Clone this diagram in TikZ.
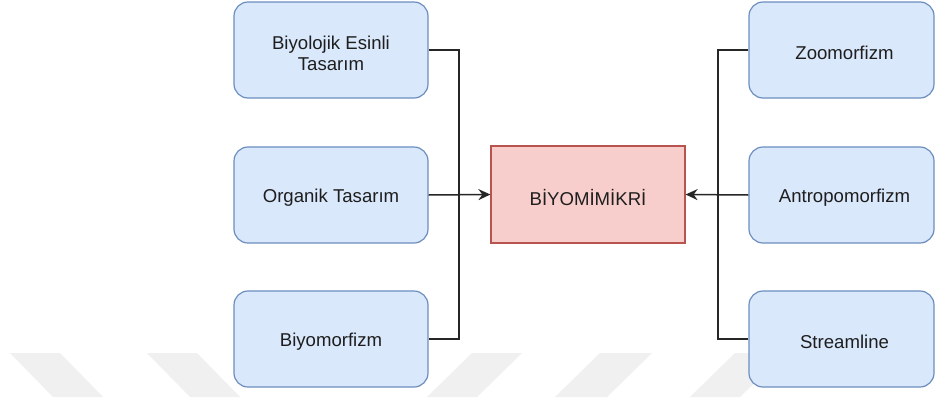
\documentclass[tikz,border=0pt]{standalone}
\usepackage{fontspec}
\setmainfont{Liberation Sans}
\usetikzlibrary{arrows.meta}
\definecolor{bluefill}{HTML}{DAE8FC}
\definecolor{blueedge}{HTML}{6C8EBF}
\definecolor{redfill}{HTML}{F8CECC}
\definecolor{rededge}{HTML}{B85450}
\definecolor{textc}{HTML}{1E1E1E}
\definecolor{wmark}{HTML}{F0F0F0}
\begin{document}
\begin{tikzpicture}[x=1pt,y=-1pt,
  boxtext/.style={align=center, inner sep=0pt, text=textc,
    font=\fontsize{18.6}{21}\selectfont, yshift=-3pt},
  bluebox/.style={draw=blueedge, fill=bluefill, rounded corners=14pt, line width=1.2pt,
    minimum width=194pt, minimum height=96pt, inner sep=0pt},
  redbox/.style={draw=rededge, fill=redfill, line width=1.2pt,
    minimum width=194pt, minimum height=97pt, inner sep=0pt},
  conn/.style={draw=black!85, line width=1.5pt},
  arr/.style={conn, -{Stealth[length=12pt,width=11pt,inset=4pt]}},
  wm/.style={fill=wmark, draw=none}]
\useasboundingbox[fill=white] (0,0) rectangle (935,397);
% watermark
\fill[wm] (10,353) -- (60,353) -- (103,397) -- (53,397) -- cycle;
\fill[wm] (147,353) -- (197,353) -- (240,397) -- (190,397) -- cycle;
\fill[wm] (472,353) -- (522,353) -- (477,397) -- (427,397) -- cycle;
\fill[wm] (600,353) -- (652,353) -- (607,397) -- (555,397) -- cycle;
\fill[wm] (735,353) -- (785,353) -- (740,397) -- (690,397) -- cycle;
% nodes
\node[bluebox, label={[boxtext]center:Biyolojik Esinli\\Tasarım}] (b1) at (331,50) {};
\node[bluebox, label={[boxtext]center:Organik Tasarım}] (b2) at (331,195) {};
\node[bluebox, label={[boxtext]center:Biyomorfizm}] (b3) at (331,339) {};
\node[redbox, label={[boxtext]center:BİYOMİMİKRİ}] (c) at (588,194.5) {};
\node[bluebox, minimum width=185pt, label={[boxtext, xshift=3pt]center:Zoomorfizm}] (r1) at (841.5,50) {};
\node[bluebox, minimum width=185pt, label={[boxtext, xshift=3pt]center:Antropomorfizm}] (r2) at (841.5,195) {};
\node[bluebox, minimum width=185pt, label={[boxtext, xshift=3pt]center:Streamline}] (r3) at (841.5,339) {};
\coordinate (jl) at (459,195);
\coordinate (jr) at (718,195);
% connectors
\draw[conn] (b1.east) -| (jl);
\draw[conn] (b3.east) -| (jl);
\draw[arr] (b2.east) -- (c.west);
\draw[conn] (r1.west) -| (jr);
\draw[conn] (r3.west) -| (jr);
\draw[arr] (r2.west) -- (c.east);
\end{tikzpicture}
\end{document}
